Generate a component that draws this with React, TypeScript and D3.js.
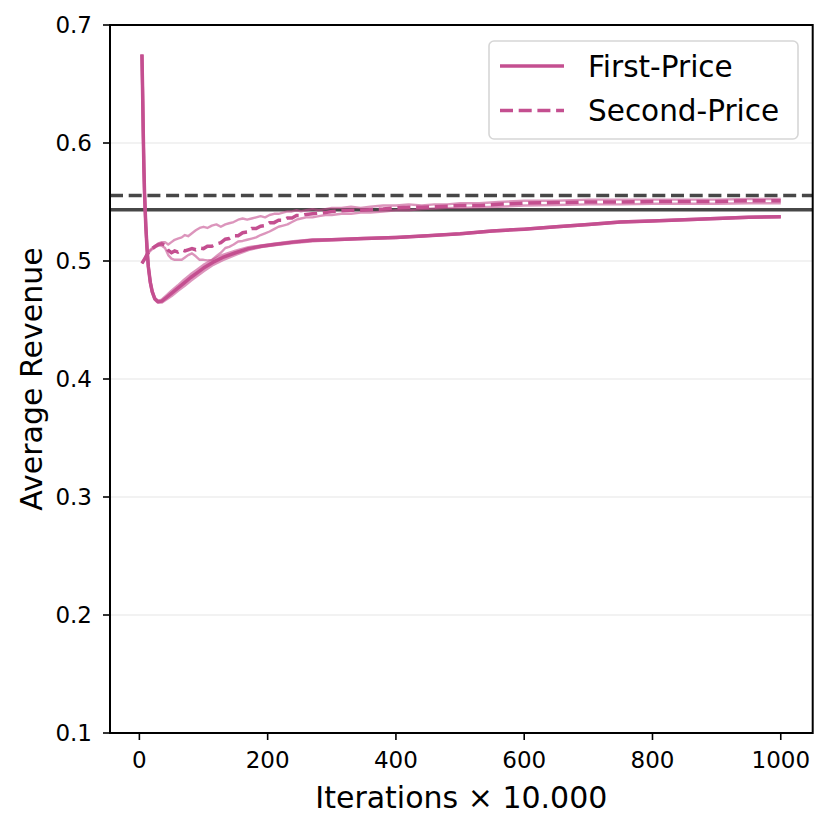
import * as d3 from "d3";

// First-price runs (iterations in units of 10.000)
const fpIter = [4, 5, 6, 7, 8, 10, 12, 14, 17, 20, 24, 29, 35, 42, 50, 60, 70, 80, 90, 100, 115, 130, 150, 170, 190, 210, 240, 270, 300, 350, 400, 450, 500, 550, 600, 650, 700, 750, 800, 850, 900, 950, 1000];
const fpMean = [0.675, 0.645, 0.61, 0.58, 0.558, 0.53, 0.51, 0.495, 0.482, 0.474, 0.468, 0.4655, 0.466, 0.469, 0.4725, 0.477, 0.4815, 0.486, 0.49, 0.494, 0.499, 0.503, 0.507, 0.5105, 0.5125, 0.514, 0.516, 0.5175, 0.518, 0.519, 0.52, 0.5215, 0.523, 0.5255, 0.527, 0.529, 0.531, 0.533, 0.534, 0.535, 0.536, 0.537, 0.5375];
const fpLow = [0.675, 0.645, 0.61, 0.58, 0.558, 0.53, 0.51, 0.495, 0.4815, 0.4735, 0.4675, 0.465, 0.465, 0.4675, 0.4705, 0.475, 0.479, 0.4835, 0.4875, 0.4915, 0.497, 0.501, 0.5055, 0.5095, 0.512, 0.5135, 0.5155, 0.517, 0.5178, 0.5188, 0.5198, 0.5213, 0.5228, 0.5253, 0.5268, 0.5288, 0.5308, 0.5328, 0.5338, 0.5348, 0.5358, 0.5368, 0.5373];
const fpHigh = [0.675, 0.645, 0.61, 0.58, 0.558, 0.53, 0.51, 0.495, 0.4825, 0.4745, 0.4685, 0.466, 0.467, 0.4705, 0.4745, 0.479, 0.484, 0.4885, 0.4925, 0.4965, 0.501, 0.505, 0.5085, 0.5115, 0.513, 0.5145, 0.5165, 0.518, 0.5182, 0.5192, 0.5202, 0.5217, 0.5232, 0.5257, 0.5272, 0.5292, 0.5312, 0.5332, 0.5342, 0.5352, 0.5362, 0.5372, 0.5377];

// Second-price runs
const spIter = [4, 8, 12, 16, 20, 25, 30, 35, 40, 45, 50, 55, 60, 66, 71, 76, 82, 88, 94, 100, 106, 113, 120, 127, 134, 140, 147, 154, 161, 168, 175, 182, 189, 196, 203, 210, 217, 224, 231, 238, 245, 252, 260, 270, 280, 290, 300, 315, 330, 345, 360, 380, 400, 420, 440, 460, 480, 500, 530, 560, 600, 650, 700, 750, 800, 850, 900, 950, 1000];
const spHigh = [0.498, 0.502, 0.506, 0.509, 0.511, 0.513, 0.515, 0.516, 0.516, 0.514, 0.516, 0.518, 0.519, 0.52, 0.522, 0.521, 0.5235, 0.526, 0.528, 0.529, 0.528, 0.53, 0.531, 0.529, 0.531, 0.532, 0.533, 0.535, 0.536, 0.535, 0.536, 0.537, 0.538, 0.537, 0.539, 0.54, 0.54, 0.541, 0.542, 0.542, 0.543, 0.542, 0.543, 0.544, 0.543, 0.544, 0.545, 0.545, 0.546, 0.545, 0.546, 0.547, 0.547, 0.548, 0.547, 0.548, 0.548, 0.549, 0.549, 0.55, 0.551, 0.551, 0.552, 0.552, 0.552, 0.552, 0.552, 0.5525, 0.5525];
const spLow = [0.498, 0.501, 0.505, 0.508, 0.51, 0.512, 0.513, 0.513, 0.511, 0.505, 0.502, 0.501, 0.501, 0.501, 0.503, 0.505, 0.5065, 0.504, 0.501, 0.501, 0.5005, 0.501, 0.504, 0.507, 0.511, 0.512, 0.514, 0.5165, 0.517, 0.518, 0.519, 0.52, 0.522, 0.5235, 0.525, 0.527, 0.529, 0.53, 0.531, 0.533, 0.535, 0.536, 0.537, 0.537, 0.538, 0.539, 0.539, 0.54, 0.54, 0.541, 0.541, 0.542, 0.543, 0.543, 0.544, 0.5445, 0.545, 0.545, 0.5455, 0.546, 0.547, 0.5475, 0.548, 0.548, 0.5485, 0.5485, 0.5485, 0.549, 0.549];
const spMean = [0.498, 0.5015, 0.5055, 0.5085, 0.5105, 0.5125, 0.514, 0.5145, 0.5135, 0.509, 0.507, 0.5085, 0.5075, 0.5095, 0.5085, 0.5095, 0.5105, 0.5095, 0.511, 0.5105, 0.5125, 0.5125, 0.5145, 0.5155, 0.5185, 0.519, 0.5215, 0.5215, 0.524, 0.5245, 0.5275, 0.5275, 0.5295, 0.53, 0.5325, 0.5325, 0.5345, 0.5345, 0.5365, 0.5365, 0.5385, 0.5385, 0.5395, 0.54, 0.5405, 0.541, 0.542, 0.5425, 0.543, 0.543, 0.5435, 0.544, 0.545, 0.5455, 0.5455, 0.546, 0.5465, 0.547, 0.547, 0.548, 0.549, 0.5495, 0.55, 0.55, 0.5505, 0.5505, 0.5505, 0.551, 0.551];

// Theoretical revenue levels
const fpTheory = 0.5435;
const spTheory = 0.5555;

const xTicks = [0, 200, 400, 600, 800, 1000];
const yTicks = [0.1, 0.2, 0.3, 0.4, 0.5, 0.6, 0.7];
const legendLabels = ["First-Price", "Second-Price"];

const PINK = "#c44f90";
const GREY = "#474747";
const FONT = "DejaVu Sans, sans-serif";

export default function App() {
  const margin = { left: 110, right: 812.7, top: 25, bottom: 733 };
  const x = d3.scaleLinear().domain([-45.8, 1049.8]).range([margin.left, margin.right]);
  const y = d3.scaleLinear().domain([0.1, 0.7]).range([margin.bottom, margin.top]);

  const line = (xs: number[], ys: number[]) =>
    d3
      .line<number>()
      .x((_, i) => x(xs[i]))
      .y((d) => y(d))(ys) ?? "";

  const [x0, x1] = x.range();

  return (
    <div style={{ position: "absolute", left: 0, top: 0 }}>
      <svg width={830} height={830} style={{ display: "block", background: "#fff" }} fontFamily={FONT}>
        {/* grid */}
        {yTicks.map((t) => (
          <line key={t} x1={x0} x2={x1} y1={y(t)} y2={y(t)} stroke="#eeeeee" strokeWidth={1.5} />
        ))}

        {/* theoretical lines */}
        <line x1={x0} x2={x1} y1={y(spTheory)} y2={y(spTheory)} stroke={GREY} strokeWidth={3.5} strokeDasharray="13,5.7" />
        <line x1={x0} x2={x1} y1={y(fpTheory)} y2={y(fpTheory)} stroke={GREY} strokeWidth={3.5} />

        {/* second-price runs */}
        <path d={line(spIter, spHigh)} fill="none" stroke={PINK} strokeOpacity={0.6} strokeWidth={2.4} strokeLinejoin="round" />
        <path d={line(spIter, spLow)} fill="none" stroke={PINK} strokeOpacity={0.6} strokeWidth={2.4} strokeLinejoin="round" />
        <path d={line(spIter, spMean)} fill="none" stroke={PINK} strokeWidth={3.5} strokeDasharray="13,5.7" />

        {/* first-price runs */}
        <path d={line(fpIter, fpHigh)} fill="none" stroke={PINK} strokeOpacity={0.6} strokeWidth={3} strokeLinejoin="round" />
        <path d={line(fpIter, fpLow)} fill="none" stroke={PINK} strokeOpacity={0.6} strokeWidth={3} strokeLinejoin="round" />
        <path d={line(fpIter, fpMean)} fill="none" stroke={PINK} strokeWidth={3.5} strokeLinejoin="round" />

        {/* frame */}
        <rect x={x0} y={margin.top} width={x1 - x0} height={margin.bottom - margin.top} fill="none" stroke="#000" strokeWidth={2} />

        {/* x axis */}
        {xTicks.map((t) => (
          <g key={t} transform={`translate(${x(t)},${margin.bottom})`}>
            <line y1={0} y2={7} stroke="#000" strokeWidth={1.6} />
            <text y={35} textAnchor="middle" fontSize={23}>
              {t}
            </text>
          </g>
        ))}
        {/* y axis */}
        {yTicks.map((t) => (
          <g key={t} transform={`translate(${margin.left},${y(t)})`}>
            <line x1={0} x2={-7} stroke="#000" strokeWidth={1.6} />
            <text x={-18} dy="0.36em" textAnchor="end" fontSize={23}>
              {t.toFixed(1)}
            </text>
          </g>
        ))}

        <text x={(x0 + x1) / 2} y={808} textAnchor="middle" fontSize={30}>
          Iterations × 10.000
        </text>
        <text transform={`translate(42,${(margin.top + margin.bottom) / 2}) rotate(-90)`} textAnchor="middle" fontSize={30}>
          Average Revenue
        </text>

        {/* legend */}
        <rect x={489} y={41} width={309} height={98} rx={5} fill="#fff" fillOpacity={0.8} stroke="#d6d6d6" strokeWidth={1.6} />
        {legendLabels.map((lab, i) => (
          <g key={lab} transform={`translate(0,${66 + i * 44.5})`}>
            <line x1={500} x2={564} stroke={PINK} strokeWidth={3.5} strokeDasharray={i === 1 ? "13,5.7" : undefined} />
            <text x={588} dy="0.36em" fontSize={29.5}>
              {lab}
            </text>
          </g>
        ))}
      </svg>
    </div>
  );
}
